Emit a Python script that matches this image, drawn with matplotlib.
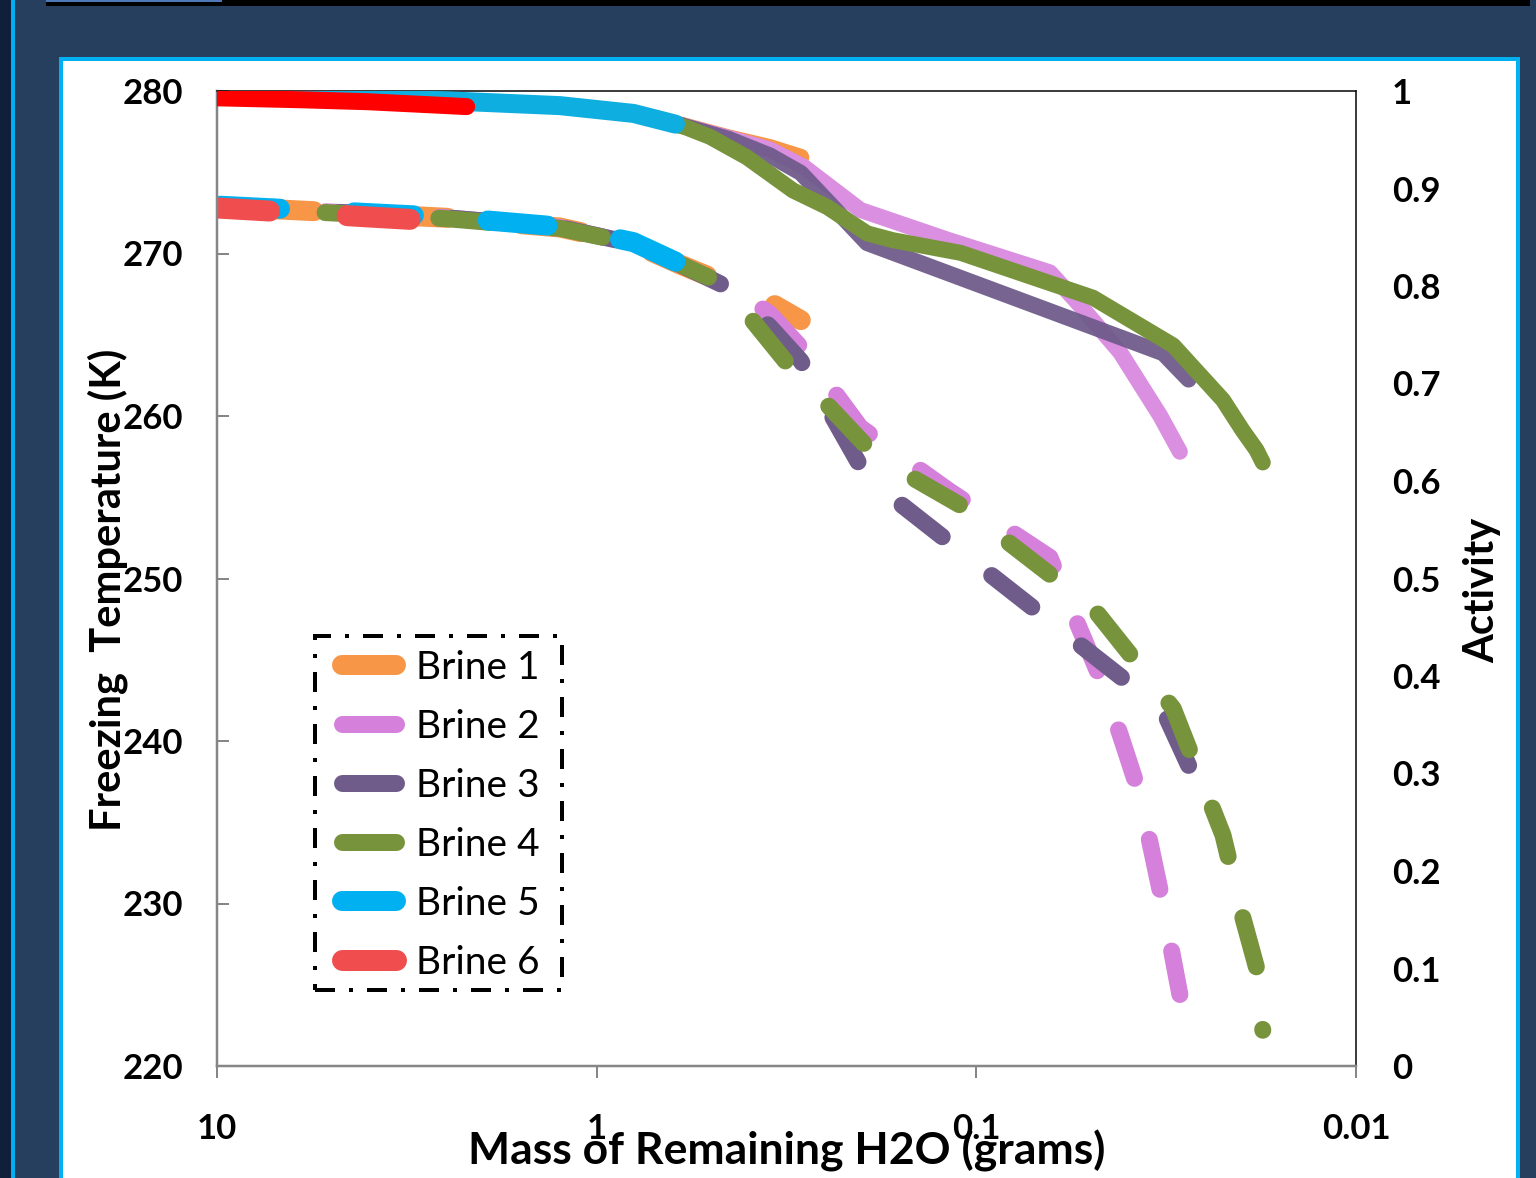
import matplotlib
matplotlib.use("Agg")
import matplotlib.pyplot as plt
from matplotlib.patches import Rectangle
from matplotlib.lines import Line2D

plt.rcParams["font.family"] = ["Lato", "DejaVu Sans"]

# mass of remaining water (g), freezing temperature (K), activity
mass_1 = [12, 10, 5, 2.5, 1.25, 0.8, 0.6, 0.45, 0.35, 0.29]
temp_1 = [273.0, 272.9, 272.55, 272.2, 271.6, 270.6, 269.3, 268.1, 267.0, 265.9]
act_1 = [0.996, 0.995, 0.993, 0.990, 0.985, 0.977, 0.965, 0.952, 0.942, 0.932]

mass_2 = [12, 10, 5, 2.5, 1.25, 0.8, 0.6, 0.45, 0.35, 0.284, 0.202, 0.118,
          0.064, 0.055, 0.0472, 0.0418, 0.0371, 0.0328, 0.0291]
temp_2 = [273.0, 272.9, 272.55, 272.2, 271.6, 270.6, 269.3, 268.0, 266.3, 264.0,
          259.3, 255.4, 251.3, 247.6, 243.9, 240.4, 236.7, 230.8, 224.4]
act_2 = [0.996, 0.995, 0.993, 0.990, 0.985, 0.977, 0.965, 0.952, 0.940, 0.922,
         0.878, 0.847, 0.814, 0.786, 0.756, 0.732, 0.700, 0.667, 0.630]

mass_3 = [12, 10, 5, 2.5, 1.25, 0.8, 0.6, 0.45, 0.35, 0.29, 0.194, 0.0322, 0.0276]
temp_3 = [273.0, 272.9, 272.55, 272.2, 271.6, 270.6, 269.3, 267.9, 265.5, 263.4,
          256.2, 241.9, 238.5]
act_3 = [0.996, 0.995, 0.993, 0.990, 0.985, 0.977, 0.965, 0.951, 0.934, 0.916,
         0.844, 0.731, 0.704]

mass_4 = [12, 10, 5, 2.5, 1.25, 0.8, 0.585, 0.503, 0.402, 0.304, 0.247, 0.194,
          0.166, 0.110, 0.0493, 0.0303, 0.0224, 0.0199, 0.0183, 0.0176]
temp_4 = [272.95, 272.85, 272.5, 272.15, 271.55, 270.6, 269.2, 268.5, 266.3, 262.8,
          260.7, 258.1, 256.9, 254.5, 248.2, 242.0, 234.2, 229.2, 226.1, 222.2]
act_4 = [0.996, 0.995, 0.993, 0.990, 0.985, 0.977, 0.963, 0.953, 0.932, 0.898,
         0.881, 0.854, 0.847, 0.834, 0.788, 0.739, 0.683, 0.652, 0.632, 0.619]

mass_5 = [12, 10, 5, 2.5, 1.25, 0.8, 0.62]
temp_5 = [273.05, 272.95, 272.6, 272.25, 271.65, 270.7, 269.5]
act_5 = [0.996, 0.995, 0.993, 0.990, 0.985, 0.977, 0.966]

mass_6 = [12, 10, 6, 4, 2.2]
temp_6 = [272.9, 272.8, 272.5, 272.25, 271.9]
act_6 = [0.994, 0.993, 0.991, 0.989, 0.984]

labels = ["Brine 1", "Brine 2", "Brine 3", "Brine 4", "Brine 5", "Brine 6"]
temp_colors = ["#F79646", "#D580DA", "#705C8B", "#77933C", "#00B0F0", "#F04E4E"]
act_colors = ["#F79646", "#DA8FE0", "#705C8B", "#77933C", "#0EAEE0", "#FF0000"]
temp_widths = [20, 17, 17, 17, 20, 21]   # pixels
act_widths = [17, 16, 16, 16, 19, 17]
# dash phase (in line widths), counted from the low-mass end of each curve
dash_offsets = [1.5, 0.4, 0.0, 2.95, 0.0, 4.0]
DASH = (3.0, 3.7)

x_ticks = [10, 1, 0.1, 0.01]
x_ticklabels = ["10", "1", "0.1", "0.01"]
t_ticks = [220, 230, 240, 250, 260, 270, 280]
a_ticks = [0, 0.1, 0.2, 0.3, 0.4, 0.5, 0.6, 0.7, 0.8, 0.9, 1]
a_ticklabels = ["0", "0.1", "0.2", "0.3", "0.4", "0.5", "0.6", "0.7", "0.8", "0.9", "1"]

masses = [mass_1, mass_2, mass_3, mass_4, mass_5, mass_6]
temps = [temp_1, temp_2, temp_3, temp_4, temp_5, temp_6]
acts = [act_1, act_2, act_3, act_4, act_5, act_6]

W, H = 1536, 1178
PT = 0.72  # points per pixel at dpi 100
NAVY = "#263F5F"
CYAN = "#00B0F0"
GRAY = "#868686"

fig = plt.figure(figsize=(W / 100, H / 100), dpi=100, facecolor=NAVY)


def px_rect(x0, y0, x1, y1, **kw):
    return Rectangle((x0 / W, 1 - y1 / H), (x1 - x0) / W, (y1 - y0) / H,
                     transform=fig.transFigure, **kw)


# slide frame around the chart
fig.add_artist(px_rect(0, 0, 11, H, facecolor="#10203A", edgecolor="none", zorder=-5))
fig.add_artist(px_rect(11, 0, 15, H, facecolor=CYAN, edgecolor="none", zorder=-5))
fig.add_artist(px_rect(46, 0, 1530, 6, facecolor="black", edgecolor="none", zorder=-5))
fig.add_artist(px_rect(46, 0, 222, 2, facecolor="#4E78B8", edgecolor="none", zorder=-4))
fig.add_artist(px_rect(61, 59, 1518, H + 4, facecolor="white", edgecolor=CYAN,
                       linewidth=4 * PT, zorder=-3))

ax = fig.add_axes([217 / W, 1 - 1066 / H, (1356 - 217) / W, (1066 - 91) / H])
ax2 = ax.twinx()

for i in range(6):
    # dashed temperature curves are drawn from the low-mass end so the
    # dash pattern lines up with where each brine stops
    ax.plot(masses[i][::-1], temps[i][::-1], color=temp_colors[i],
            linewidth=temp_widths[i] * PT,
            linestyle=(dash_offsets[i], DASH), dash_capstyle="round",
            dash_joinstyle="round", label=labels[i])
    ax2.plot(masses[i], acts[i], color=act_colors[i],
             linewidth=act_widths[i] * PT, solid_capstyle="round",
             solid_joinstyle="round", alpha=0.95 if i == 2 else 1.0)

ax.set_xscale("log")
ax.set_xlim(10, 0.01)
ax.set_ylim(220, 280)
ax2.set_ylim(0, 1)

ax.set_xticks(x_ticks)
ax.set_xticklabels(x_ticklabels)
ax.xaxis.set_minor_locator(matplotlib.ticker.NullLocator())
ax.set_yticks(t_ticks)
ax2.set_yticks(a_ticks)
ax2.set_yticklabels(a_ticklabels)

for lab in ax.get_xticklabels() + ax.get_yticklabels() + ax2.get_yticklabels():
    lab.set_fontsize(25)
    lab.set_fontweight("bold")

ax.tick_params(axis="y", direction="in", length=12 * PT, width=2 * PT,
               color=GRAY, pad=34 * PT)
ax.tick_params(axis="x", direction="out", length=12 * PT, width=2 * PT,
               color=GRAY, pad=35 * PT)
ax2.tick_params(axis="y", length=0, pad=36 * PT)

for side in ["left", "bottom"]:
    ax.spines[side].set_color(GRAY)
    ax.spines[side].set_linewidth(2.5 * PT)
for side in ["top", "right"]:
    ax.spines[side].set_color("black")
    ax.spines[side].set_linewidth(1.5 * PT)
for sp in ax2.spines.values():
    sp.set_visible(False)

ax.set_xlabel("Mass of Remaining H2O (grams)", fontsize=32, fontweight="bold")
ax.xaxis.set_label_coords(0.5, -0.065)
ax.xaxis.label.set_va("top")
ax.set_ylabel("Freezing  Temperature (K)", fontsize=30, fontweight="bold")
ax.yaxis.set_label_coords(-0.078, 0.488)
ax2.set_ylabel("Activity", fontsize=30, fontweight="bold")
ax2.yaxis.set_label_coords(1.094, 0.488)

# legend with a dash-dot outline
handles = [Line2D([], [], color=temp_colors[i], linewidth=temp_widths[i] * PT,
                  solid_capstyle="round") for i in range(6)]
leg = ax2.legend(handles, labels, frameon=False, fontsize=28,
                 loc="upper left", bbox_to_anchor=(0.1097, 0.4267),
                 handlelength=1.39, handletextpad=0.52, labelspacing=0.59,
                 borderpad=0, borderaxespad=0)
fig.add_artist(px_rect(315, 636, 562, 990, facecolor="none", edgecolor="black",
                       linewidth=4 * PT, linestyle=(0, (5, 3.5, 1, 3.5)), zorder=5))

fig.savefig("out.png", dpi=100, facecolor=NAVY)
